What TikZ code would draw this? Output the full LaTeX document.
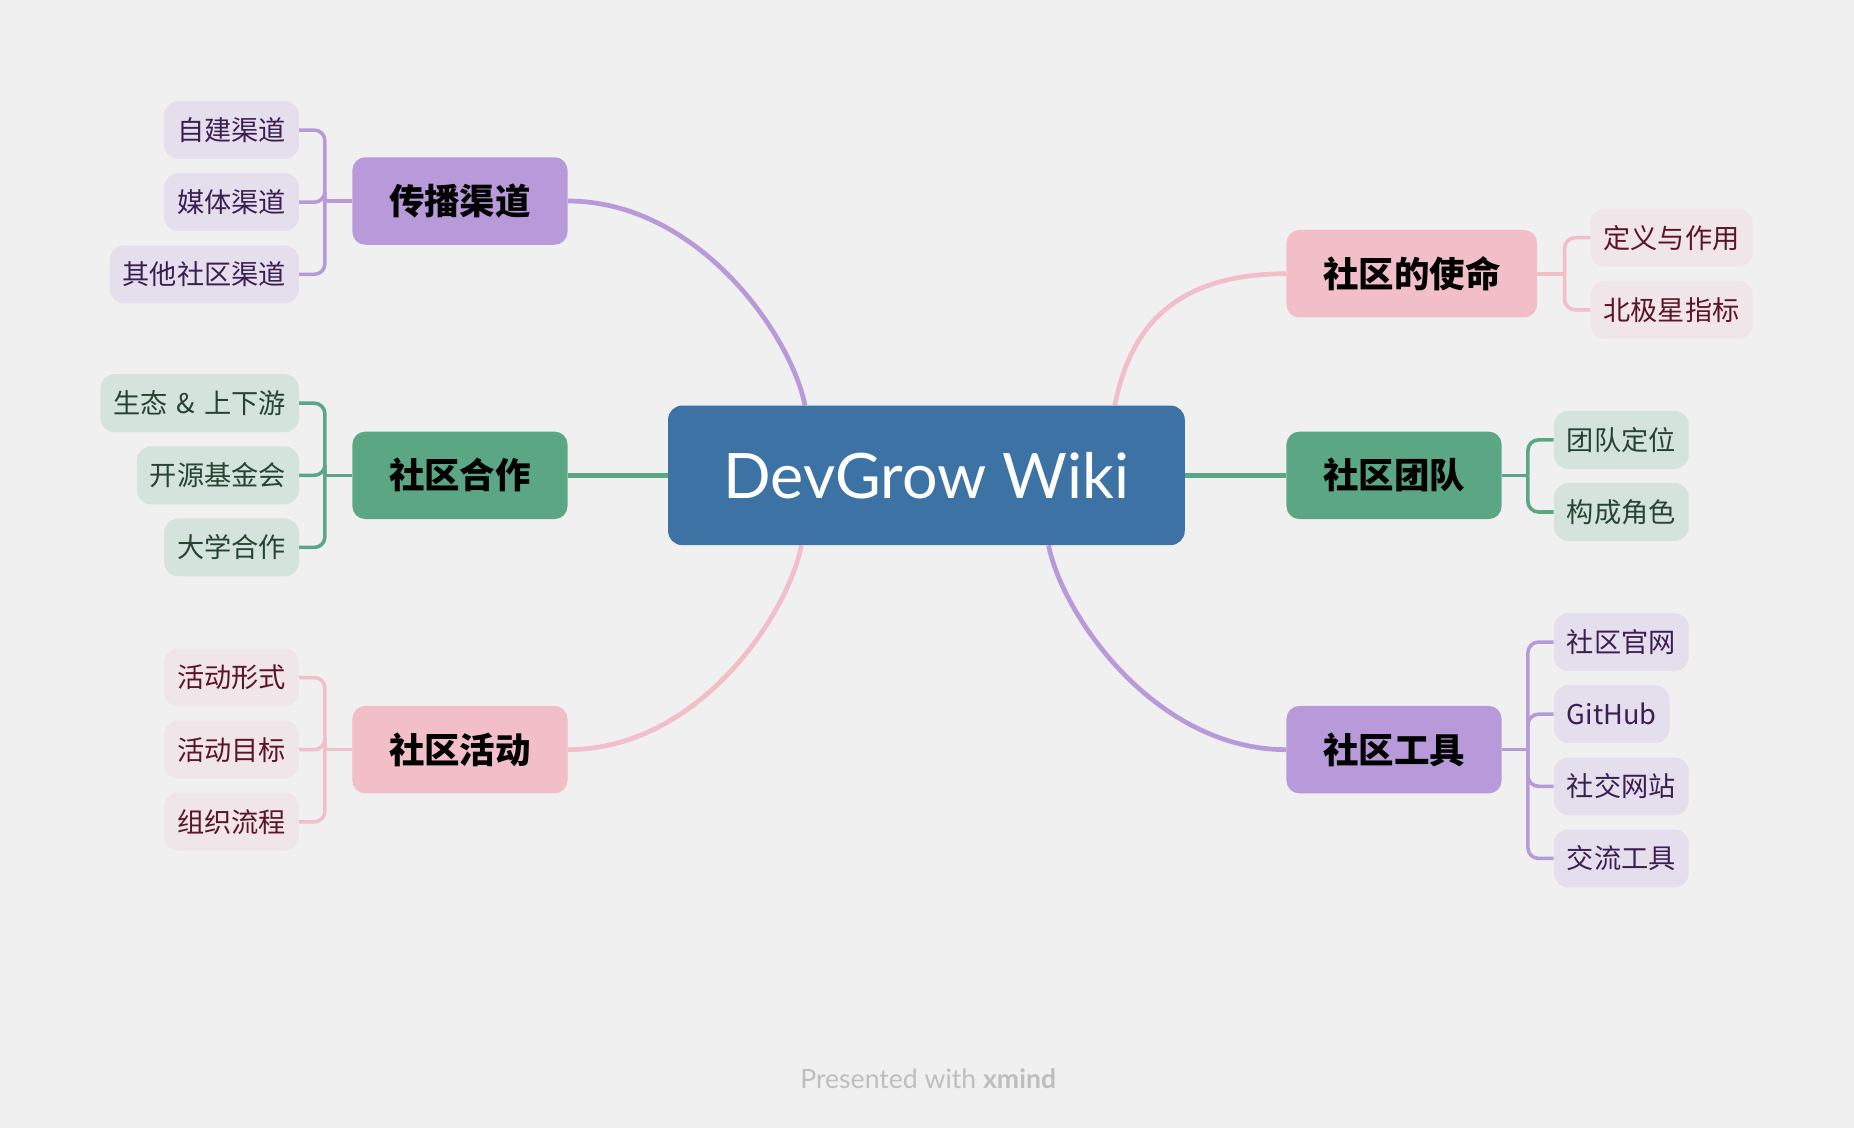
\documentclass[tikz,border=0pt]{standalone}
\usepackage{fontspec}
\newfontfamily\cjk{Noto Sans CJK SC}
\newfontfamily\lato{Lato}
\usetikzlibrary{calc,backgrounds}
\definecolor{bgc}{HTML}{F0F0F0}
\definecolor{rootc}{HTML}{3D73A4}
\definecolor{purM}{HTML}{B899DA}
\definecolor{grnM}{HTML}{5BA784}
\definecolor{pnkM}{HTML}{F2BEC8}
\definecolor{purL}{HTML}{E5DEEC}
\definecolor{grnL}{HTML}{D4E4DC}
\definecolor{pnkL}{HTML}{F0E5E8}
\definecolor{purT}{HTML}{3B1E52}
\definecolor{grnT}{HTML}{274433}
\definecolor{pnkT}{HTML}{5C1428}
\definecolor{footc}{HTML}{BEBEBE}
\tikzset{
  rootbox/.style={rectangle, rounded corners=12pt, fill=rootc, text=white, minimum width=437pt, minimum height=118pt, inner sep=0pt, font=\lato\fontsize{53}{53}\selectfont},
  topicbox/.style={rectangle, rounded corners=11pt, inner xsep=31pt, inner ysep=0pt, minimum height=74pt, text=black, font=\cjk\bfseries\fontsize{30}{30}\selectfont},
  leafbox/.style={rectangle, rounded corners=12pt, inner xsep=11pt, inner ysep=0pt, minimum height=49pt, font=\cjk\fontsize{23}{23}\selectfont},
  pleaf/.style={leafbox, fill=purL, text=purT},
  gleaf/.style={leafbox, fill=grnL, text=grnT},
  kleaf/.style={leafbox, fill=pnkL, text=pnkT},
  mainline/.style={line width=4pt},
  subline/.style={line width=3pt, rounded corners=9pt},
}
\begin{document}
\begin{tikzpicture}[x=1pt,y=-1pt]
\begin{pgfonlayer}{background}
\fill[bgc] (0,0) rectangle (1568,954);
\end{pgfonlayer}
\useasboundingbox (0,0) rectangle (1568,954);

% root
\node[rootbox] (root) at (783.5,402) {DevGrow Wiki};

% topics
\node[topicbox, fill=purM] (t1) at (389,170) {传播渠道};
\node[topicbox, fill=grnM] (t2) at (389,402) {社区合作};
\node[topicbox, fill=pnkM] (t3) at (389,634) {社区活动};
\node[topicbox, fill=pnkM] (t4) at (1194,231.5) {社区的使命};
\node[topicbox, fill=grnM] (t5) at (1179,402) {社区团队};
\node[topicbox, fill=purM] (t6) at (1179,634) {社区工具};

% left leaves
\node[pleaf, anchor=east] (a1) at (253,110) {自建渠道};
\node[pleaf, anchor=east] (a2) at (253,171) {媒体渠道};
\node[pleaf, anchor=east] (a3) at (253,232) {其他社区渠道};
\node[gleaf, anchor=east] (b1) at (253,341) {生态\hspace{2.5pt} \&\hspace{2.5pt} 上下游};
\node[gleaf, anchor=east] (b2) at (253,402) {开源基金会};
\node[gleaf, anchor=east] (b3) at (253,463) {大学合作};
\node[kleaf, anchor=east] (c1) at (253,573) {活动形式};
\node[kleaf, anchor=east] (c2) at (253,634) {活动目标};
\node[kleaf, anchor=east] (c3) at (253,695) {组织流程};

% right leaves
\node[kleaf, anchor=west] (d1) at (1345,201) {定义与作用};
\node[kleaf, anchor=west] (d2) at (1345,262) {北极星指标};
\node[gleaf, anchor=west] (e1) at (1314,372) {团队定位};
\node[gleaf, anchor=west] (e2) at (1314,433) {构成角色};
\node[pleaf, anchor=west] (f1) at (1314,543) {社区官网};
\node[pleaf, anchor=west] (f2) at (1314,604) {GitHub};
\node[pleaf, anchor=west] (f3) at (1314,665) {社交网站};
\node[pleaf, anchor=west] (f4) at (1314,726) {交流工具};

% junctions
\coordinate (j1) at ($(t1.west)+(-23,0)$);
\coordinate (j2) at ($(t2.west)+(-23,0)$);
\coordinate (j3) at ($(t3.west)+(-23,0)$);
\coordinate (j4) at ($(t4.east)+(23,0)$);
\coordinate (j5) at ($(t5.east)+(22,0)$);
\coordinate (j6) at ($(t6.east)+(22,0)$);

\begin{pgfonlayer}{background}
% main connectors
\draw[mainline, purM] ($(root.north west)+(116,0)$) .. controls +(-12,-60) and +(110,0) .. (t1.east);
\draw[mainline, grnM] (root.west) -- (t2.east);
\draw[mainline, pnkM] ($(root.south west)+(113,0)$) .. controls +(-12,60) and +(110,0) .. (t3.east);
\draw[mainline, pnkM] ($(root.north west)+(378,0)$) .. controls +(12,-60) and +(-100,0) .. (t4.west);
\draw[mainline, grnM] (root.east) -- (t5.west);
\draw[mainline, purM] ($(root.south west)+(322,0)$) .. controls +(12,60) and +(-110,0) .. (t6.west);

% brackets
\draw[subline, purM] (t1.west) -- (j1);
\foreach \l in {a1,a2,a3} \draw[subline, purM] (j1) |- (\l.east);
\draw[subline, grnM] (t2.west) -- (j2);
\foreach \l in {b1,b2,b3} \draw[subline, grnM] (j2) |- (\l.east);
\draw[subline, pnkM] (t3.west) -- (j3);
\foreach \l in {c1,c2,c3} \draw[subline, pnkM] (j3) |- (\l.east);
\draw[subline, pnkM] (t4.east) -- (j4);
\foreach \l in {d1,d2} \draw[subline, pnkM] (j4) |- (\l.west);
\draw[subline, grnM] (t5.east) -- (j5);
\foreach \l in {e1,e2} \draw[subline, grnM] (j5) |- (\l.west);
\draw[subline, purM] (t6.east) -- (j6);
\foreach \l in {f1,f2,f3,f4} \draw[subline, purM] (j6) |- (\l.west);
\end{pgfonlayer}

% footer
\node[text=footc, font=\lato\fontsize{22.5}{22.5}\selectfont] (foot) at (785,912) {Presented with \textbf{xmind}};
\end{tikzpicture}
\end{document}
